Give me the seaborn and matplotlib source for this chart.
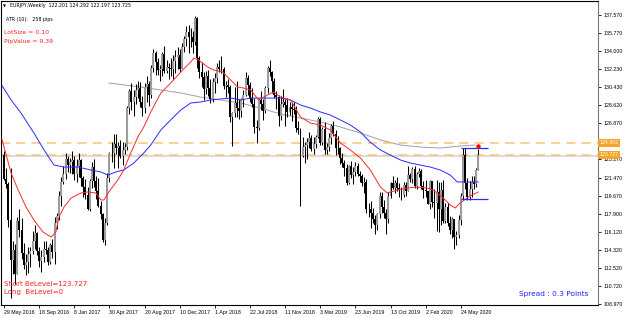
import numpy as np
import matplotlib
matplotlib.use("Agg")
import matplotlib.pyplot as plt
import matplotlib.transforms as mtrans
import seaborn as sns

# ---------------- data (weekly EURJPY) ----------------
first_open = 123.7
closes = [121.3,120.8,117.3,113.3,114.3,111.9,117.2,116.3,114.0,112.8,
          113.1,113.9,114.2,115.2,116.0,114.2,113.2,113.6,114.4,114.3,
          113.1,114.8,114.1,117.0,117.7,119.7,121.0,121.8,123.3,122.7,
          123.0,123.2,121.8,122.6,123.2,121.4,120.5,119.8,118.4,121.1,
          122.5,121.1,120.1,118.7,117.9,115.3,117.0,121.4,123.9,123.9,
          124.8,124.4,124.6,123.6,124.2,124.5,128.4,130.0,129.0,129.5,
          130.1,130.3,129.0,128.4,130.4,130.7,129.7,132.3,133.8,132.9,
          132.1,132.2,133.7,132.0,132.4,132.3,132.2,133.0,133.4,133.6,
          132.2,134.4,135.2,135.9,135.4,135.4,134.9,137.3,133.3,131.9,
          131.4,130.2,131.5,130.3,129.3,130.9,131.3,132.4,132.2,132.2,
          130.5,130.6,130.4,127.5,127.9,128.9,128.4,128.1,129.3,129.7,
          131.3,130.6,129.4,128.8,126.5,126.4,129.2,128.8,128.1,130.3,
          132.3,131.9,131.0,129.7,129.5,127.6,128.8,129.0,128.7,128.0,
          128.5,128.3,128.2,126.4,126.2,123.6,124.5,124.7,125.0,125.4,
          124.3,124.8,125.5,127.3,124.9,126.3,124.2,124.5,125.4,126.6,
          125.8,124.4,124.4,123.4,122.9,122.4,120.9,122.6,121.7,122.0,
          122.6,121.8,121.6,120.9,121.0,118.4,118.4,118.0,117.4,116.8,
          117.9,119.7,118.6,118.0,117.4,119.7,120.9,120.4,120.9,120.4,
          120.2,119.8,120.7,120.1,121.7,121.3,122.3,120.6,121.8,122.1,
          120.6,120.2,120.1,118.9,121.1,119.1,119.0,120.0,118.4,120.2,
          117.2,118.6,117.0,116.3,117.4,115.6,115.8,117.3,119.7,123.7,
          120.9,119.6,120.3,121.0,120.8,122.201,123.725]
highs = [124.1,122.4,121.0,122.4,115.2,114.9,117.6,118.4,117.5,115.0,
         113.9,114.6,114.6,116.2,116.8,116.1,114.6,114.3,115.2,115.2,
         114.6,115.0,115.4,117.6,118.0,120.1,121.5,122.6,123.9,123.6,
         123.4,124.1,123.6,123.3,123.9,123.3,121.6,121.3,120.5,121.3,
         123.0,123.3,121.6,121.4,119.2,118.0,117.5,121.9,124.0,125.0,
         125.8,125.8,125.0,125.2,125.0,124.9,128.6,130.2,130.8,130.1,
         130.7,131.0,130.9,129.6,130.8,131.5,131.0,132.6,134.2,134.0,
         133.3,132.6,133.9,134.5,133.1,132.8,133.3,133.6,134.1,134.4,
         134.2,134.8,135.5,136.5,136.6,136.3,136.0,137.5,137.4,133.5,
         132.9,131.9,132.0,132.1,131.2,131.3,131.8,132.8,133.1,133.5,
         132.4,131.0,131.2,130.6,128.0,130.4,131.0,129.3,129.4,130.1,
         131.9,131.6,130.9,130.3,129.4,127.2,129.4,130.0,129.3,130.5,
         132.5,133.1,132.0,131.3,130.0,129.7,129.6,130.2,129.3,129.4,
         129.0,129.0,129.0,128.6,127.1,126.4,125.5,125.0,125.4,126.0,
         125.7,125.5,125.7,127.5,127.5,126.5,127.0,124.9,125.9,126.8,
         127.1,126.2,125.6,124.5,123.9,123.2,122.8,122.7,123.1,122.5,
         123.0,122.9,122.1,121.8,121.5,121.3,119.0,119.2,118.5,117.8,
         118.0,120.0,120.0,119.3,118.4,120.0,121.0,121.6,121.2,121.5,
         120.9,120.5,121.0,121.0,122.6,121.9,122.5,122.6,122.0,122.4,
         122.3,121.1,121.2,120.1,121.2,121.1,120.3,121.2,121.0,121.0,
         121.2,119.0,119.0,117.7,117.6,117.3,116.2,117.8,119.9,124.4,
         124.4,121.4,121.1,121.6,121.6,122.4,124.292]
lows = [121.2,120.4,116.6,109.6,111.9,110.9,111.9,115.6,113.4,112.4,
        111.8,112.0,112.6,113.9,114.4,113.8,112.6,112.1,113.1,113.9,
        112.8,112.9,113.5,112.9,116.4,117.3,118.7,120.8,121.3,122.0,
        121.9,121.8,121.2,121.0,121.5,120.6,119.6,119.4,118.3,118.2,
        120.4,120.5,119.4,118.6,117.4,115.1,114.8,116.8,121.0,123.0,
        122.4,123.8,122.4,123.4,122.7,123.8,124.2,127.8,128.2,127.6,
        128.8,129.4,128.5,127.6,127.9,129.0,128.6,129.4,131.9,131.6,
        131.6,131.0,131.5,131.8,131.8,131.2,131.5,131.2,131.8,132.2,
        131.9,132.3,133.9,134.5,133.8,134.4,133.8,134.6,132.3,131.3,
        130.4,129.2,129.8,129.6,128.9,129.0,129.9,130.8,131.9,131.8,
        130.2,129.5,129.9,127.0,124.6,127.5,127.5,127.3,127.5,128.5,
        129.6,129.7,129.0,128.5,125.9,124.9,126.2,128.2,127.2,127.9,
        129.9,131.5,129.9,129.4,128.3,126.6,127.2,128.5,126.6,127.5,
        127.7,127.1,127.8,126.0,125.8,118.7,123.5,122.9,123.3,124.4,
        124.1,123.8,124.4,125.4,124.7,124.7,123.8,123.8,124.1,124.8,
        125.6,123.7,123.8,122.8,122.5,121.6,120.7,120.8,121.4,120.8,
        121.6,121.6,121.0,120.6,119.9,118.0,117.6,116.5,117.0,115.9,
        116.3,117.5,118.0,117.5,115.9,117.0,119.5,120.3,119.9,120.1,
        119.6,119.3,119.6,119.7,120.1,121.0,120.9,120.4,120.3,121.5,
        120.3,119.5,119.6,118.9,118.4,118.6,117.5,116.2,116.1,116.8,
        117.0,117.0,116.7,115.9,115.5,114.4,114.8,115.5,116.8,119.3,
        120.3,119.3,119.3,119.6,120.3,120.5,122.197]

red_weeks = [-1,3.2,6.4,10,13.6,17.7,21.4,23.6,25,27.3,30.5,35,38.2,41.8,44.1,
             45.5,47.7,51.8,54.5,57.7,60.9,63.6,66.8,71.4,75.9,80.5,85,86.4,88.6,
             92.7,95.5,99.5,103.2,106.4,109.1,112.3,115.9,120,122.7,125.9,130.5,
             135,139.5,144.1,148.6,153.2,157.7,162.3,166.8,171.4,174.5,179.1,
             183.6,188.2,192.7,195.5,200,203.2,205.5,207.7,210.9,213.2,216]
red_vals = [125.3,121.93,120.25,118.56,117.28,116.09,115.59,116.09,117.57,118.56,
            119.45,119.95,120.05,119.95,119.26,119.26,120.05,121.24,122.23,123.91,
            125.49,126.48,127.97,129.85,130.84,131.93,132.92,133.31,133.12,132.42,
            132.13,131.93,131.14,130.44,130.34,130.15,129.16,129.65,129.95,129.45,
            129.16,127.47,126.88,126.68,126.19,124.90,124.21,123.41,122.23,120.54,
            119.95,120.25,120.44,120.54,120.44,120.25,119.45,118.76,118.46,118.96,
            119.45,119.76,120.05]
blue_weeks = [-1,3.2,7.7,13.6,18.2,22.7,27.3,33.6,39.5,44.1,47.3,50.9,54.5,59.1,
              63.6,66.8,71.4,75.9,80.5,85,89.5,94.1,98.6,103.2,107.7,112.3,116.8,
              121.4,125.9,130.5,135,139.5,144.1,148.6,153.2,157.7,162.3,166.8,
              171.4,175.9,180.5,185,189.5,194.1,198.6,203.2,206.4,216]
blue_vals = [130.6,129.16,127.87,125.89,124.21,122.72,122.52,122.52,122.23,122.03,
             121.73,122.03,122.23,122.92,123.91,124.70,126.19,127.18,128.17,128.86,
             128.96,129.16,129.26,129.35,129.16,129.35,129.35,129.35,129.35,129.16,
             128.66,128.36,127.97,127.67,127.18,126.68,125.99,124.97,124.21,123.71,
             123.22,122.92,122.72,122.52,122.23,121.73,121.04,121.04]
gray_weeks = [47.7,62.3,71.4,80.5,89.5,98.6,107.7,116.8,125.9,135,144.1,153.2,
              162.3,171.4,180.5,189.5,198.6,207.7,214.5]
gray_vals = [130.84,130.44,130.15,129.85,129.45,129.16,128.86,128.36,127.77,127.37,
             126.98,126.48,125.89,125.20,124.70,124.50,124.40,124.60,124.70]

orange_levels = [124.902, 123.727]
orange_labels = ["124.902", "123.727"]
bid_price = 123.725
box_levels = [124.43, 119.32]
box_start, box_end = 208.2, 220.5
marker_week, marker_price = 216, 124.6

ytick_vals = [137.570, 135.770, 134.000, 132.230, 130.430, 128.620, 126.870,
              123.270, 121.470, 119.670, 117.900, 116.120, 114.320, 112.520,
              110.720, 108.970]
xtick_weeks = [0, 16, 32, 48, 64, 80, 96, 112, 128, 144, 160, 176, 192, 208]
xtick_labels = ["29 May 2016", "18 Sep 2016", "8 Jan 2017", "30 Apr 2017",
                "20 Aug 2017", "10 Dec 2017", "1 Apr 2018", "22 Jul 2018",
                "11 Nov 2018", "3 Mar 2019", "23 Jun 2019", "13 Oct 2019",
                "2 Feb 2020", "24 May 2020"]

# ---------------- drawing ----------------
sns.set_theme(style="white")
plt.rcParams["font.family"] = ["Liberation Sans", "DejaVu Sans"]

W, H = 625, 318
fig = plt.figure(figsize=(W / 100, H / 100), dpi=100)
ax = fig.add_axes([1 / W, 13 / H, 597 / W, 304 / H])
ax.set_facecolor("white")

c = np.array(closes)
o = np.array([first_open] + closes[:-1])
hi = np.array(highs)
lo = np.array(lows)
x = np.arange(len(c))
up = c >= o

ax.vlines(x, lo, hi, color="black", lw=0.75, zorder=3)
ax.bar(x[up], (c - o)[up], bottom=o[up], width=0.9, color="#9c9c9c",
       edgecolor="none", zorder=4)
ax.bar(x[~up], (o - c)[~up], bottom=c[~up], width=0.9, color="black",
       edgecolor="none", zorder=4)

sns.lineplot(x=gray_weeks, y=gray_vals, color="#a0a0a0", lw=0.7, ax=ax, zorder=2)
sns.lineplot(x=blue_weeks, y=blue_vals, color="#2a2aff", lw=0.7, ax=ax, zorder=5)
sns.lineplot(x=red_weeks, y=red_vals, color="#ff2a2a", lw=0.7, ax=ax, zorder=5)

ax.axhline(bid_price - 0.12, color="#d9d9d9", lw=1.3, zorder=1)
for lv in orange_levels:
    ax.axhline(lv, color="#f9c47c", lw=1.1, ls=(0, (6, 4)), zorder=2)
ax.hlines(box_levels, box_start, box_end, color="#2a2aff", lw=0.9, zorder=6)
ax.plot([marker_week], [marker_price], "o", color="red", ms=2.2, zorder=7)

ax.set_xlim(-1.4, 270.5)
ax.set_ylim(108.86, 138.96)

ax.yaxis.tick_right()
ax.set_yticks(ytick_vals)
ax.set_yticklabels([f"{v:.3f}" for v in ytick_vals])
ax.set_xticks(xtick_weeks)
ax.set_xticklabels(xtick_labels)
for lab in ax.get_xticklabels():
    lab.set_ha("left")
ax.tick_params(axis="both", which="both", direction="out", length=2, width=0.6,
               colors="black", labelsize=3.8, pad=1.5)
ax.tick_params(axis="y", right=True, left=False, pad=2)
ax.tick_params(axis="x", bottom=True, pad=1.5)
for sp in ax.spines.values():
    sp.set_color("black")
    sp.set_linewidth(0.8)
ax.spines["right"].set_color("#777777")
ax.set_xlabel("")
ax.set_ylabel("")
ax.grid(False)

trans = mtrans.blended_transform_factory(ax.transAxes, ax.transData)
for lv, lab in zip(orange_levels, orange_labels):
    ax.text(1.003, lv, lab, transform=trans, fontsize=3.8, color="white",
            va="center", ha="left", zorder=10,
            bbox=dict(boxstyle="square,pad=0.25", fc="#f4a52a", ec="none"))

def fpx(px, py):
    return px / W, 1 - py / H

fam = ["DejaVu Sans"]
fig.text(*fpx(3, 6), "\u25bc", fontsize=2.8, color="black", va="center", family=fam)
fig.text(*fpx(10, 6), "EURJPY,Weekly  122.201 124.292 122.197 123.725",
         fontsize=3.4, color="black", va="center", family=fam)
fig.text(*fpx(6, 19), "ATR (10):   258 pips", fontsize=3.4, color="black",
         va="center", family=fam)
fig.text(*fpx(4, 33), "LotSize = 0.10", fontsize=4.4, color="#ff2020", va="center", family=fam)
fig.text(*fpx(4, 42), "PipValue = 9.39", fontsize=4.4, color="#ff2020", va="center", family=fam)
fig.text(*fpx(4, 284), "Short BeLevel=123.727", fontsize=5, color="#ff2020",
         va="center", family=fam)
fig.text(*fpx(4, 292), "Long  BeLevel=0", fontsize=5, color="#ff2020", va="center", family=fam)
fig.text(*fpx(519, 294), "Spread : 0.3 Points", fontsize=5.3, color="#2020ff",
         va="center", family=fam)

fig.savefig("out.png", dpi=100, facecolor="white")
